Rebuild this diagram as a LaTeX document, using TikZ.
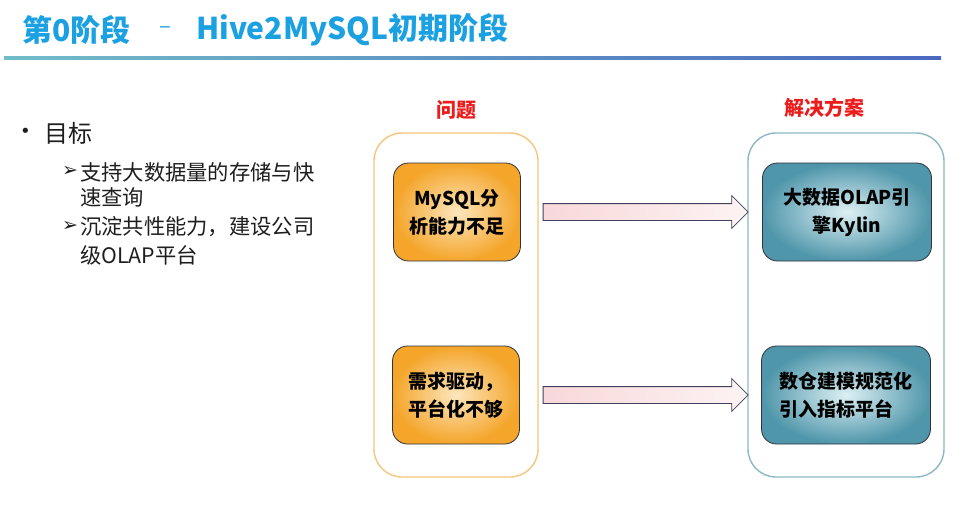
\documentclass[tikz,border=0pt]{standalone}
\usepackage{fontspec}
\usepackage{tikz}
\usetikzlibrary{shapes.arrows,positioning}
\newfontfamily\cjk{Noto Sans CJK SC}
\newfontfamily\symfont{DejaVu Sans}
\definecolor{titleblue}{HTML}{1BA1E2}
\definecolor{lineteal}{HTML}{72BCC8}
\definecolor{lineblue}{HTML}{4A68C0}
\definecolor{orangeout}{HTML}{F4A52A}
\definecolor{orangein}{HTML}{FDE6BC}
\definecolor{tealout}{HTML}{4F96AA}
\definecolor{tealin}{HTML}{DDF0F4}
\definecolor{orangeframe}{HTML}{F5C67C}
\definecolor{tealframe}{HTML}{8CB8C6}
\definecolor{labelred}{HTML}{EC1C1C}
\definecolor{arrowpink}{HTML}{F8D8DA}
\definecolor{arrowlight}{HTML}{FDF3F3}
\definecolor{arrowedge}{HTML}{41415E}
\definecolor{boxedge}{HTML}{30323F}
\definecolor{textgray}{HTML}{1E1E1E}

\begin{document}
\begin{tikzpicture}[x=1pt,y=-1pt,
    frame/.style={draw,line width=1.4pt,rounded corners=28pt,minimum width=#1,minimum height=344pt},
    problem/.style={draw=boxedge,line width=0.8pt,rounded corners=15pt,inner color=orangein,outer color=orangeout,
        minimum width=127pt,minimum height=98pt,align=center,font=\cjk\bfseries\fontsize{19}{28}\selectfont},
    answer/.style={draw=boxedge,line width=0.8pt,rounded corners=15pt,inner color=tealin,outer color=tealout,
        minimum width=169pt,minimum height=98pt,font=\cjk\bfseries\fontsize{19}{28}\selectfont},
    bigarrow/.style={single arrow,draw=arrowedge,line width=0.8pt,left color=arrowpink,right color=arrowlight,
        minimum width=32pt,minimum height=205pt,single arrow head extend=8pt,inner sep=8pt,anchor=west},
    heading/.style={text=labelred,font=\cjk\bfseries\fontsize{20}{24}\selectfont},
    goal/.style={anchor=west,inner sep=0pt,text=textgray,font=\cjk\fontsize{21.3}{25}\selectfont},
    marker/.style={anchor=west,inner sep=0pt,text=textgray,font=\symfont\fontsize{19}{20}\selectfont}]
    \useasboundingbox [fill=white] (0,0) rectangle (962,525);
    \node [anchor=west,inner sep=0pt,text=titleblue,font=\cjk\bfseries\fontsize{30}{34}\selectfont] (t1) at (22,30) {第0阶段};
    \node [text=titleblue,font=\cjk\fontsize{22}{30}\selectfont] (dash) at (165,30) {–};
    \node [anchor=west,inner sep=0pt,text=titleblue,font=\cjk\bfseries\fontsize{30}{34}\selectfont] (t2) at (196,30) {Hive2MySQL初期阶段};
    \shade [left color=lineteal,right color=lineblue] (4,56) rectangle (941,59);

    \node [anchor=west,inner sep=0pt,text=textgray,font=\symfont\fontsize{18}{20}\selectfont] (dot) at (20,133) {•};
    \node [anchor=west,inner sep=0pt,text=textgray,font=\cjk\fontsize{24}{28}\selectfont] (aim) at (44,133) {目标};
    \node [marker] (m1) at (62,171) {➢};
    \node [goal] (g1) at (80,172) {支持大数据量的存储与快};
    \node [goal] (g2) at (80,197) {速查询};
    \node [marker] (m2) at (62,226) {➢};
    \node [goal] (g3) at (80,227) {沉淀共性能力，建设公司};
    \node [goal] (g4) at (80,255) {级OLAP平台};

    \node [frame=164pt,draw=orangeframe] (lbox) at (456,305) {};
    \node [frame=196pt,draw=tealframe] (rbox) at (846,305) {};
    \node [heading] (qh) at (456,110) {问题};
    \node [heading] (sh) at (824,108) {解决方案};

    \node [problem] (q1) at (457,212) {MySQL分\\析能力不足};
    \node [problem,align=left] (q2) at (456,395) {需求驱动，\\平台化不够};
    \node [answer,align=center] (s1) at (847,212) {大数据OLAP引\\擎Kylin};
    \node [answer,align=left] (s2) at (846,395) {数仓建模规范化\\引入指标平台};

    \node [bigarrow] (a1) at ([xshift=4pt]lbox.east |- q1) {};
    \node [bigarrow] (a2) at ([xshift=4pt]lbox.east |- q2) {};
\end{tikzpicture}
\end{document}
